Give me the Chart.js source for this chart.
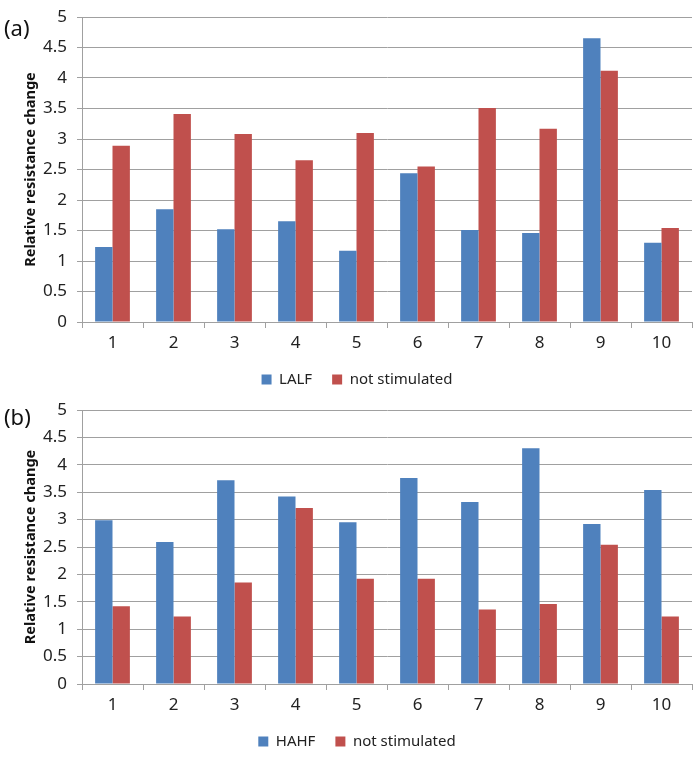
<!DOCTYPE html>
<html>
<head>
<meta charset="utf-8">
<script src="https://cdn.jsdelivr.net/npm/chart.js@4/dist/chart.umd.min.js"></script>
<style>
  body { margin: 0; background: #fff; width: 700px; height: 761px; position: relative; overflow: hidden; }
  .box { position: absolute; left: 0; width: 700px; }
  .panel-label { position: absolute; left: 4px; font: 22px "Noto Sans", sans-serif; color: #111; }
</style>
</head>
<body>
<div class="box" style="top:0;height:397px"><canvas id="chartA"></canvas></div>
<div class="box" style="top:390px;height:369px"><canvas id="chartB"></canvas></div>
<div class="panel-label" style="top:12px">(a)</div>
<div class="panel-label" style="top:401px">(b)</div>
<script>
// Sample numbers on the x axis
const samples = ['1', '2', '3', '4', '5', '6', '7', '8', '9', '10'];

// Panel (a)
const lalf = [1.23, 1.85, 1.52, 1.65, 1.17, 2.44, 1.51, 1.46, 4.65, 1.30];
const notStimA = [2.89, 3.41, 3.08, 2.65, 3.10, 2.55, 3.51, 3.17, 4.12, 1.54];

// Panel (b)
const hahf = [2.99, 2.59, 3.72, 3.42, 2.95, 3.76, 3.32, 4.30, 2.92, 3.54];
const notStimB = [1.42, 1.23, 1.85, 3.21, 1.92, 1.92, 1.36, 1.46, 2.54, 1.23];

const yTitle = 'Relative resistance change';
const blue = '#4f81bd';
const red = '#c0504d';
const gridGray = '#a0a0a0';

Chart.defaults.font.family = '"Noto Sans", sans-serif';
Chart.defaults.color = '#222';
Chart.defaults.animation = false;

function makeChart(id, firstLabel, firstData, secondData, pad) {
    const ctx = document.getElementById(id).getContext('2d');
    return new Chart(ctx, {
        type: 'bar',
        data: {
            labels: samples,
            datasets: [
                { label: firstLabel, data: firstData, backgroundColor: blue },
                { label: 'not stimulated', data: secondData, backgroundColor: red }
            ]
        },
        options: {
            responsive: true,
            maintainAspectRatio: false,
            layout: { padding: pad },
            datasets: { bar: { categoryPercentage: 0.57, barPercentage: 1.0 } },
            plugins: {
                legend: {
                    position: 'bottom',
                    labels: { boxWidth: 10, boxHeight: 10, font: { size: 15 }, color: '#222', padding: 20 }
                },
                tooltip: { enabled: false }
            },
            scales: {
                x: {
                    grid: { offset: true, drawOnChartArea: false, color: gridGray, tickLength: 6 },
                    border: { color: gridGray },
                    ticks: { font: { size: 17 }, color: '#222', padding: 5 },
                    afterFit: s => { s.height = 30; }
                },
                y: {
                    min: 0, max: 5,
                    ticks: {
                        stepSize: 0.5, font: { size: 17 }, color: '#222', padding: 10,
                        callback: v => String(Number(v))
                    },
                    grid: { color: gridGray, tickLength: 5 },
                    border: { color: gridGray },
                    title: { display: true, text: yTitle, font: { size: 14.6, weight: 'bold' }, color: '#111', padding: 0 },
                    afterFit: s => {
                        s.width = 82 - pad.left;
                        s.paddingTop = 0;  // let layout padding alone set the plot top
                    }
                }
            }
        }
    });
}

makeChart('chartA', 'LALF', lalf, notStimA, { top: 17, right: 8, bottom: 0, left: 22 });
makeChart('chartB', 'HAHF', hahf, notStimB, { top: 20, right: 8, bottom: 0, left: 22 });
</script>
</body>
</html>
